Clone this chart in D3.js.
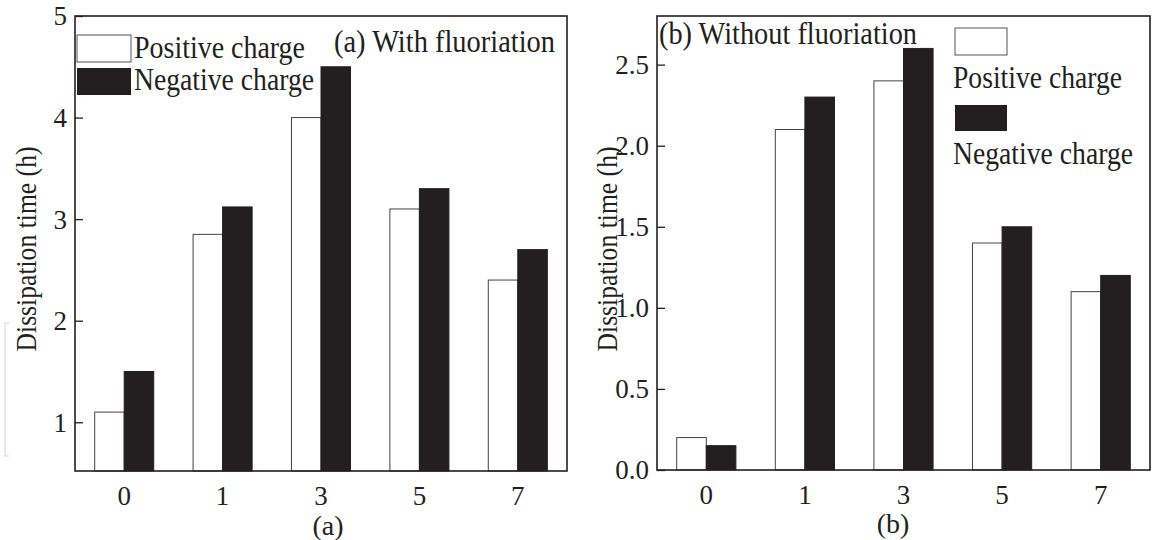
<!DOCTYPE html>
<html>
<head>
<meta charset="utf-8">
<script src="https://cdn.jsdelivr.net/npm/d3@7"></script>
<style>
  body { margin: 0; background: #fff; }
  svg text { font-family: "Liberation Serif", "Times New Roman", serif; fill: #231f20; }
</style>
</head>
<body>
<div id="chart"></div>
<script>
// Data
const categories = ["0", "1", "3", "5", "7"]
const seriesNames = ["Positive charge", "Negative charge"]
const withPositive = [1.1, 2.85, 4.0, 3.1, 2.4]
const withNegative = [1.5, 3.12, 4.5, 3.3, 2.7]
const withoutPositive = [0.2, 2.1, 2.4, 1.4, 1.1]
const withoutNegative = [0.15, 2.3, 2.6, 1.5, 1.2]
const leftTicks = [1, 2, 3, 4, 5]
const rightTicks = [0, 0.5, 1.0, 1.5, 2.0, 2.5]

const ink = "#231f20"

const svg = d3.select("#chart")
  .append("svg")
  .attr("width", 1154)
  .attr("height", 540)

function panel(opts) {
  const { left, right, top, bottom, domain, ticks, fmt, pos, neg } = opts
  const table = categories.map((c, i) => ({ cat: c, values: [pos[i], neg[i]] }))

  const xScale = d3.scaleBand()
    .domain(categories)
    .range([left, right])
    .paddingInner(0.4)
    .paddingOuter(0.2)
  const xSub = d3.scaleBand()
    .domain(seriesNames)
    .range([0, xScale.bandwidth()])
  const yScale = d3.scaleLinear()
    .domain(domain)
    .range([bottom, top])

  const g = svg.append("g")

  // bars
  const groups = g.selectAll(".grp")
    .data(table)
    .join("g")
    .attr("transform", d => `translate(${xScale(d.cat)},0)`)
  groups.selectAll("rect")
    .data(d => d.values.map((v, i) => ({ name: seriesNames[i], v })))
    .join("rect")
    .attr("x", d => xSub(d.name))
    .attr("width", xSub.bandwidth())
    .attr("y", d => yScale(d.v))
    .attr("height", d => yScale(domain[0]) - yScale(d.v))
    .attr("fill", d => d.name === seriesNames[0] ? "#fff" : ink)
    .attr("stroke", d => d.name === seriesNames[0] ? "#444" : ink)
    .attr("stroke-width", 1)

  // y axis, ticks inside
  const yAxis = d3.axisRight(yScale)
    .tickValues(ticks)
    .tickSize(8)
    .tickFormat("")
  const ya = g.append("g")
    .attr("transform", `translate(${left},0)`)
    .call(yAxis)
  ya.select(".domain").remove()
  ya.selectAll("line").attr("stroke", ink).attr("stroke-width", 1.3)

  g.selectAll(".ylab")
    .data(ticks)
    .join("text")
    .attr("x", left - 8)
    .attr("y", d => yScale(d))
    .attr("dy", "0.35em")
    .attr("text-anchor", "end")
    .attr("font-size", 27)
    .text(fmt)

  // x axis labels, no ticks
  const xa = g.append("g")
    .attr("transform", `translate(0,${bottom})`)
    .call(d3.axisBottom(xScale).tickSize(0).tickPadding(15))
  xa.select(".domain").remove()
  xa.selectAll("text")
    .attr("font-size", 27)
    .attr("font-family", "Liberation Serif, serif")
    .attr("fill", ink)

  // frame
  g.append("rect")
    .attr("x", left)
    .attr("y", top)
    .attr("width", right - left)
    .attr("height", bottom - top)
    .attr("fill", "none")
    .attr("stroke", ink)
    .attr("stroke-width", 1.6)

  return g
}

// taller, narrow serif text like the printed figure
function label(g, x, y, str, len) {
  g.append("text")
    .attr("x", x)
    .attr("y", y)
    .attr("font-size", 31)
    .attr("textLength", len)
    .attr("lengthAdjust", "spacingAndGlyphs")
    .text(str)
}

const a = panel({
  left: 75, right: 567, top: 16, bottom: 471,
  domain: [0.52, 5], ticks: leftTicks, fmt: d3.format("d"),
  pos: withPositive, neg: withNegative
})
const b = panel({
  left: 657, right: 1150, top: 16, bottom: 470,
  domain: [0, 2.8], ticks: rightTicks, fmt: d3.format(".1f"),
  pos: withoutPositive, neg: withoutNegative
})

// legend (a)
a.append("rect").attr("x", 77).attr("y", 35).attr("width", 54).attr("height", 27)
  .attr("fill", "#fff").attr("stroke", "#555").attr("stroke-width", 1)
a.append("rect").attr("x", 77).attr("y", 68).attr("width", 54).attr("height", 27)
  .attr("fill", ink)
label(a, 134, 58, seriesNames[0], 171)
label(a, 134, 90, seriesNames[1], 180)
label(a, 334, 52, "(a) With fluoriation", 221)

// legend (b)
b.append("rect").attr("x", 955).attr("y", 28).attr("width", 52).attr("height", 27)
  .attr("fill", "#fff").attr("stroke", "#555").attr("stroke-width", 1)
b.append("rect").attr("x", 955).attr("y", 105).attr("width", 52).attr("height", 26)
  .attr("fill", ink)
label(b, 953, 88, seriesNames[0], 169)
label(b, 953, 164, seriesNames[1], 180)
label(b, 659, 44, "(b) Without fluoriation", 258)

// axis titles
svg.append("text")
  .attr("transform", "translate(36,249) rotate(-90)")
  .attr("text-anchor", "middle")
  .attr("font-size", 29)
  .attr("textLength", 205)
  .attr("lengthAdjust", "spacingAndGlyphs")
  .text("Dissipation time (h)")
svg.append("text")
  .attr("transform", "translate(617,249) rotate(-90)")
  .attr("text-anchor", "middle")
  .attr("font-size", 29)
  .attr("textLength", 205)
  .attr("lengthAdjust", "spacingAndGlyphs")
  .text("Dissipation time (h)")

svg.append("text").attr("x", 328).attr("y", 535).attr("text-anchor", "middle")
  .attr("font-size", 28).text("(a)")
svg.append("text").attr("x", 893).attr("y", 533).attr("text-anchor", "middle")
  .attr("font-size", 28).text("(b)")

// faint scan bracket at the left margin
svg.append("path")
  .attr("d", "M9,323 H5 V456 H9")
  .attr("fill", "none")
  .attr("stroke", "#e2e2e2")
  .attr("stroke-width", 1.5)
</script>
</body>
</html>
